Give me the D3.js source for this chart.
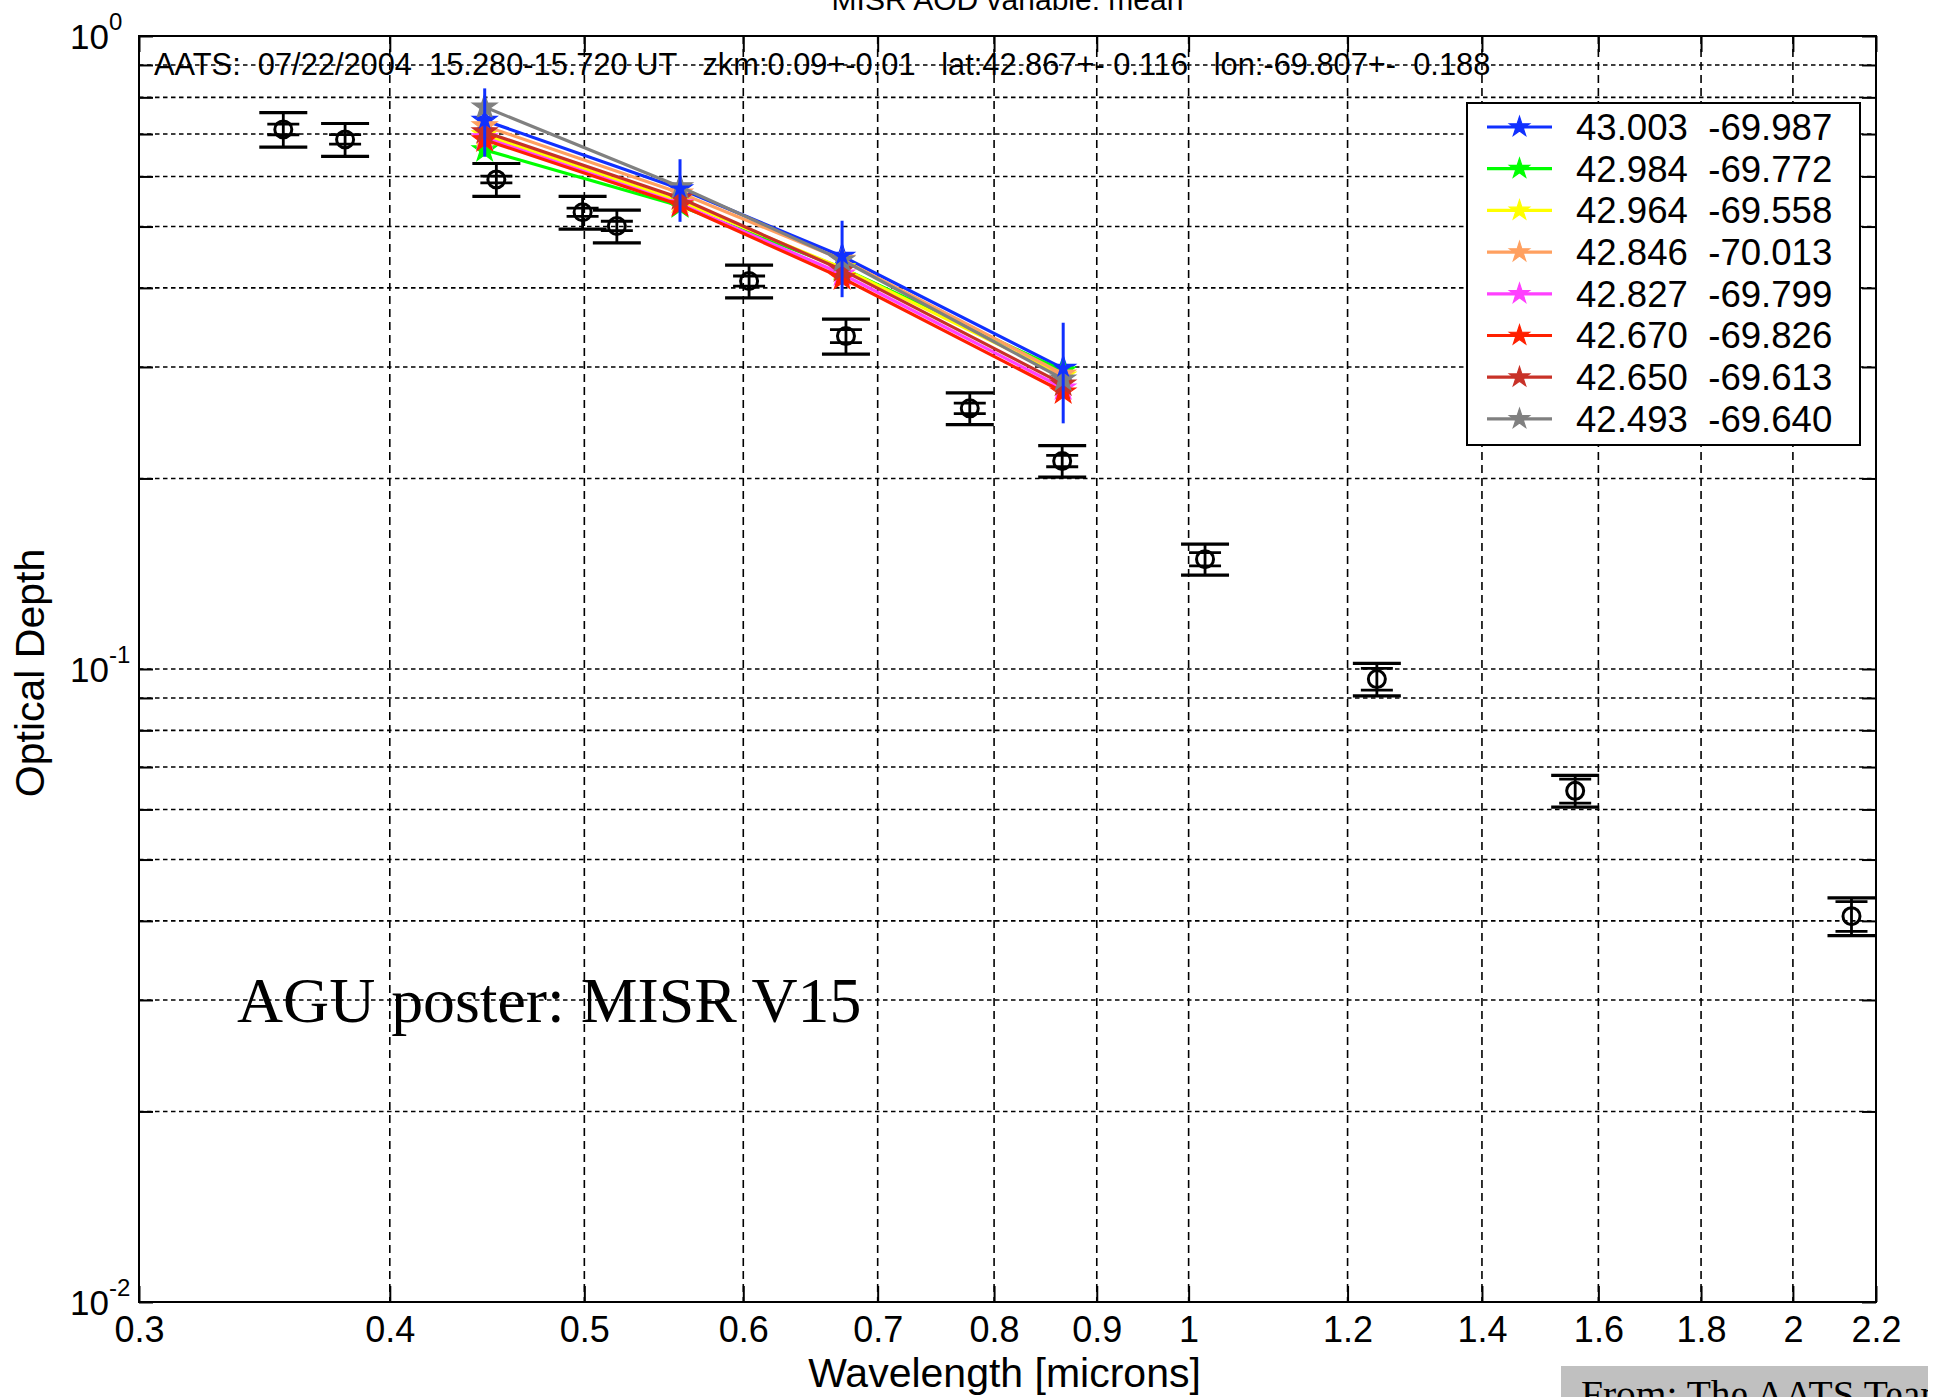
<!DOCTYPE html>
<html>
<head>
<meta charset="utf-8">
<script src="https://cdn.jsdelivr.net/npm/d3@7"></script>
<style>
  body { margin: 0; background: #fff; }
  svg { display: block; }
  text { font-family: "Liberation Sans", Arial, Helvetica, sans-serif; fill: #000; }
  .serif { font-family: "Liberation Serif", "Times New Roman", serif; }
  .pre { white-space: pre; }
</style>
</head>
<body>
<svg id="chart" width="1935" height="1397"></svg>
<script>
// ---- AATS sun-photometer spectrum (black circles with error bars) ----
const aatsWavelength = [0.354, 0.380, 0.452, 0.499, 0.519, 0.604, 0.675, 0.778, 0.865, 1.019, 1.241, 1.558, 2.139];
const aatsAOD        = [0.712, 0.6865, 0.5935, 0.5267, 0.5011, 0.4102, 0.3357, 0.2581, 0.2131, 0.1491, 0.0964, 0.0642, 0.0407];
const aatsErrOuter   = [0.0445, 0.0409, 0.0354, 0.0312, 0.0298, 0.0245, 0.0214, 0.0149, 0.0122, 0.0084, 0.0057, 0.0037, 0.0028];
const aatsErrInner   = [0.0138, 0.0118, 0.0073, 0.0080, 0.0086, 0.0075, 0.0080, 0.0050, 0.0044, 0.0036, 0.0038, 0.0028, 0.0022];

// ---- MISR retrievals (one series per lat/lon location) ----
const misrWavelength = [0.446, 0.558, 0.672, 0.866];
const misrLabels = [
  "43.003  -69.987", "42.984  -69.772", "42.964  -69.558", "42.846  -70.013",
  "42.827  -69.799", "42.670  -69.826", "42.650  -69.613", "42.493  -69.640"
];
const misrColors = ["#1030ff", "#00ff00", "#ffff00", "#ffa060", "#ff40ff", "#ff2000", "#c83228", "#808080"];
const misr43003 = [0.7355, 0.5737, 0.4487, 0.2984];
const misr42984 = [0.6608, 0.5388, 0.4301, 0.2956];
const misr42964 = [0.6979, 0.5486, 0.4301, 0.2903];
const misr42846 = [0.7211, 0.5649, 0.4436, 0.2924];
const misr42827 = [0.6903, 0.5428, 0.4207, 0.2779];
const misr42670 = [0.6853, 0.5408, 0.4147, 0.2739];
const misr42650 = [0.7055, 0.5547, 0.4270, 0.2819];
const misr42493 = [0.7723, 0.5779, 0.4427, 0.2871];
const misrSeriesValues = [misr43003, misr42984, misr42964, misr42846, misr42827, misr42670, misr42650, misr42493];
// spread of the first location's retrieval
const misr43003Err = [0.091, 0.065, 0.062, 0.054];

// ---- axes ----
const xTickValues = [0.3, 0.4, 0.5, 0.6, 0.7, 0.8, 0.9, 1, 1.2, 1.4, 1.6, 1.8, 2, 2.2];
const yLabelValues = [1, 0.1, 0.01];
const yLabelExponents = ["0", "-1", "-2"];

const titleText = "MISR AOD variable: mean";
const infoText = "AATS:  07/22/2004  15.280-15.720 UT   zkm:0.09+-0.01   lat:42.867+- 0.116   lon:-69.807+-  0.188";
const xLabelText = "Wavelength [microns]";
const yLabelText = "Optical Depth";
const posterText = "AGU poster: MISR V15";
const creditText = "From: The AATS Team";

// ---------------------------------------------------------------
const W = 1935, H = 1397;
const plot = { left: 139, right: 1876, top: 36, bottom: 1302 };

const x = d3.scaleLog().domain([0.3, 2.2]).range([plot.left, plot.right]);
const y = d3.scaleLog().domain([0.01, 1]).range([plot.bottom, plot.top]);

const svg = d3.select("#chart");
svg.append("rect").attr("width", W).attr("height", H).attr("fill", "#fff");

// grid lines
const yGridValues = y.ticks();
const grid = svg.append("g").attr("stroke", "#000").attr("stroke-width", 1.6).attr("fill", "none");
grid.selectAll("line.gx")
  .data(xTickValues.slice(1, -1))
  .join("line").attr("class", "gx")
  .attr("x1", d => x(d)).attr("x2", d => x(d))
  .attr("y1", plot.top).attr("y2", plot.bottom)
  .attr("stroke-dasharray", "8,5");
grid.selectAll("line.gy")
  .data(yGridValues.slice(1, -1))
  .join("line").attr("class", "gy")
  .attr("x1", plot.left).attr("x2", plot.right)
  .attr("y1", d => y(d)).attr("y2", d => y(d))
  .attr("stroke-dasharray", "4.5,3.5");

// inward ticks on all four sides
const tickLen = 16;
const axB = svg.append("g").attr("transform", `translate(0,${plot.bottom})`)
  .call(d3.axisBottom(x).tickValues(xTickValues).tickSizeInner(-tickLen).tickSizeOuter(0)
        .tickPadding(14).tickFormat(d3.format("")));
const axT = svg.append("g").attr("transform", `translate(0,${plot.top})`)
  .call(d3.axisTop(x).tickValues(xTickValues).tickSizeInner(-tickLen).tickSizeOuter(0).tickFormat(""));
const axL = svg.append("g").attr("transform", `translate(${plot.left},0)`)
  .call(d3.axisLeft(y).tickValues(yGridValues).tickSizeInner(-14).tickSizeOuter(0).tickFormat(""));
const axR = svg.append("g").attr("transform", `translate(${plot.right},0)`)
  .call(d3.axisRight(y).tickValues(yGridValues).tickSizeInner(-14).tickSizeOuter(0).tickFormat(""));
[axB, axT, axL, axR].forEach(g => {
  g.select(".domain").remove();
  g.selectAll(".tick line").attr("stroke", "#000").attr("stroke-width", 2);
});
axB.selectAll(".tick text")
  .attr("font-family", '"Liberation Sans", Arial, sans-serif')
  .attr("font-size", 36).attr("fill", "#000");

// plot box
svg.append("rect")
  .attr("x", plot.left).attr("y", plot.top)
  .attr("width", plot.right - plot.left).attr("height", plot.bottom - plot.top)
  .attr("fill", "none").attr("stroke", "#000").attr("stroke-width", 2);

// y tick labels: 10 with exponent
const yLab = svg.append("g").selectAll("text")
  .data(yLabelValues)
  .join("text")
  .attr("x", 70).attr("y", d => y(d) + 13)
  .attr("font-size", 35)
  .text("10");
yLab.append("tspan")
  .attr("dy", -19).attr("font-size", 24)
  .text((d, i) => yLabelExponents[i]);

// axis titles
svg.append("text")
  .attr("x", (plot.left + plot.right) / 2 - 3).attr("y", 1387)
  .attr("text-anchor", "middle").attr("font-size", 41)
  .text(xLabelText);
svg.append("text")
  .attr("transform", `translate(44,${(plot.top + plot.bottom) / 2 + 4}) rotate(-90)`)
  .attr("text-anchor", "middle").attr("font-size", 41)
  .text(yLabelText);
svg.append("text")
  .attr("x", (plot.left + plot.right) / 2).attr("y", 10)
  .attr("text-anchor", "middle").attr("font-size", 30)
  .text(titleText);

// observation header inside the axes
svg.append("text")
  .attr("class", "pre").attr("xml:space", "preserve")
  .attr("x", 154).attr("y", 75).attr("font-size", 30.8)
  .text(infoText);

// poster annotation
svg.append("text")
  .attr("class", "serif")
  .attr("x", 237).attr("y", 1022).attr("font-size", 63.8)
  .text(posterText);

// ---- AATS points ----
const aats = aatsWavelength.map((w, i) => ({ w, v: aatsAOD[i], eo: aatsErrOuter[i], ei: aatsErrInner[i] }));
const gA = svg.append("g").attr("stroke", "#000").attr("fill", "none");
const pts = gA.selectAll("g").data(aats).join("g");
pts.append("line")
  .attr("x1", d => x(d.w)).attr("x2", d => x(d.w))
  .attr("y1", d => y(d.v + d.eo)).attr("y2", d => y(d.v - d.eo))
  .attr("stroke-width", 2.8);
[1, -1].forEach(s => {
  pts.append("line")
    .attr("x1", d => x(d.w) - 24).attr("x2", d => x(d.w) + 24)
    .attr("y1", d => y(d.v + s * d.eo)).attr("y2", d => y(d.v + s * d.eo))
    .attr("stroke-width", 3.2);
  pts.append("line")
    .attr("x1", d => x(d.w) - 16).attr("x2", d => x(d.w) + 16)
    .attr("y1", d => y(d.v + s * d.ei)).attr("y2", d => y(d.v + s * d.ei))
    .attr("stroke-width", 2.8);
});
pts.append("circle")
  .attr("cx", d => x(d.w)).attr("cy", d => y(d.v))
  .attr("r", 8.5).attr("stroke-width", 3);

// ---- MISR series ----
const series = misrSeriesValues.map((vals, k) => ({
  label: misrLabels[k], color: misrColors[k],
  pts: vals.map((v, i) => ({ w: misrWavelength[i], v }))
}));
const line = d3.line().x(d => x(d.w)).y(d => y(d.v));
const star = d3.symbol(d3.symbolStar, 190);
const starSmall = d3.symbol(d3.symbolStar, 125);

const gM = svg.append("g");
series.forEach(s => {
  const g = gM.append("g");
  g.append("path").attr("d", line(s.pts))
    .attr("fill", "none").attr("stroke", s.color).attr("stroke-width", 3.2);
  g.selectAll("path.mk").data(s.pts).join("path").attr("class", "mk")
    .attr("d", star)
    .attr("transform", d => `translate(${x(d.w)},${y(d.v)})`)
    .attr("fill", s.color).attr("stroke", s.color).attr("stroke-width", 1.2);
});

// spread of the first location, drawn on top
const first = series[0];
const gE = svg.append("g").attr("stroke", first.color).attr("stroke-width", 3);
gE.selectAll("line").data(first.pts).join("line")
  .attr("x1", d => x(d.w)).attr("x2", d => x(d.w))
  .attr("y1", (d, i) => y(d.v + misr43003Err[i])).attr("y2", (d, i) => y(d.v - misr43003Err[i]));
gE.selectAll("path").data(first.pts).join("path")
  .attr("d", starSmall)
  .attr("transform", d => `translate(${x(d.w)},${y(d.v)})`)
  .attr("fill", first.color).attr("stroke", "none");

// ---- legend ----
const lg = svg.append("g");
lg.append("rect")
  .attr("x", 1467).attr("y", 103).attr("width", 393).attr("height", 342)
  .attr("fill", "#fff").attr("stroke", "#000").attr("stroke-width", 2);
const rows = lg.selectAll("g.row").data(series).join("g").attr("class", "row")
  .attr("transform", (d, i) => `translate(0,${127 + i * 41.7})`);
rows.append("line")
  .attr("x1", 1487).attr("x2", 1552).attr("y1", 0).attr("y2", 0)
  .attr("stroke", d => d.color).attr("stroke-width", 3.2);
rows.append("path")
  .attr("d", starSmall)
  .attr("transform", "translate(1519.5,0)")
  .attr("fill", d => d.color).attr("stroke", d => d.color).attr("stroke-width", 1.2);
rows.append("text")
  .attr("class", "pre").attr("xml:space", "preserve")
  .attr("x", 1576).attr("y", 12.8).attr("font-size", 36.6)
  .text(d => d.label);

// ---- credit box (text clipped to the box) ----
const credit = { x: 1561, y: 1366, w: 367, h: 40 };
svg.append("clipPath").attr("id", "creditClip")
  .append("rect").attr("x", credit.x).attr("y", credit.y).attr("width", credit.w).attr("height", credit.h);
svg.append("rect")
  .attr("x", credit.x).attr("y", credit.y).attr("width", credit.w).attr("height", credit.h)
  .attr("fill", "#c0c0c0");
svg.append("text")
  .attr("class", "serif")
  .attr("clip-path", "url(#creditClip)")
  .attr("x", 1581).attr("y", 1408).attr("font-size", 39.5)
  .text(creditText);
</script>
</body>
</html>
